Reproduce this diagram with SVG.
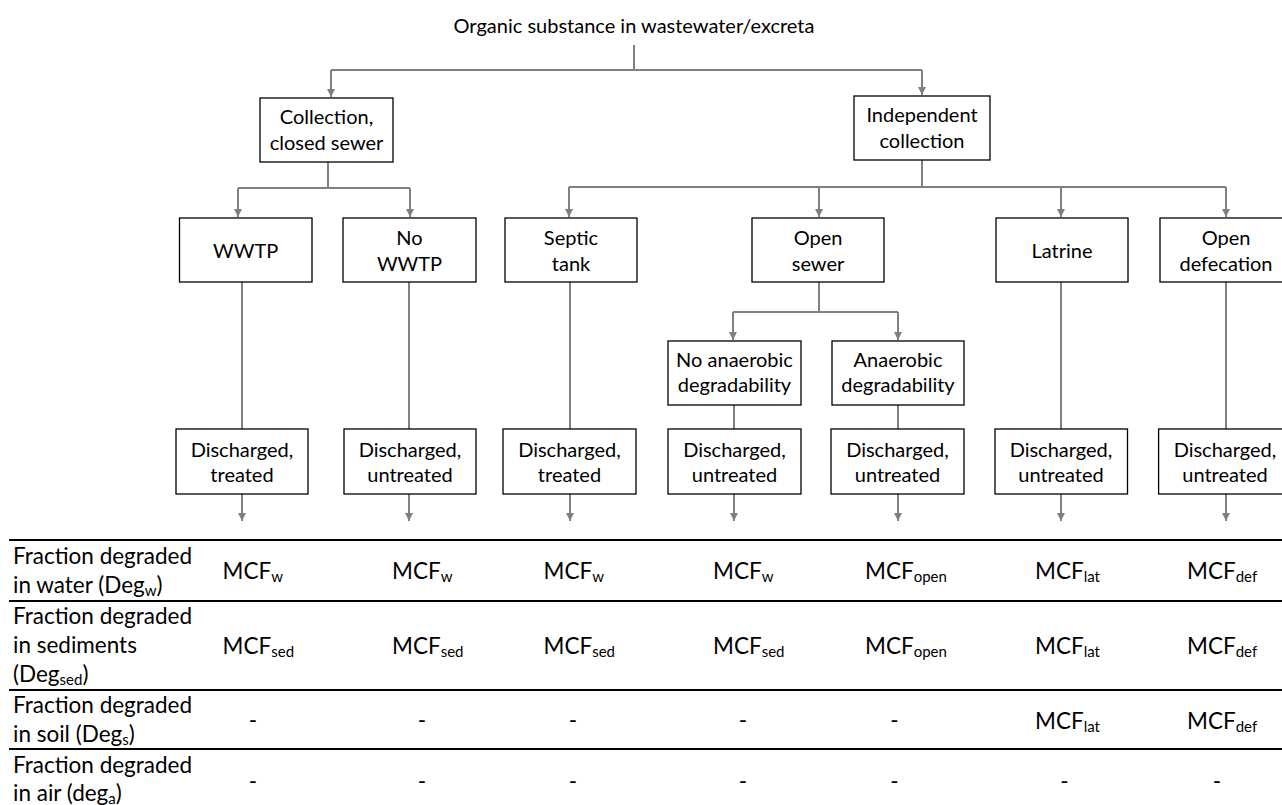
<svg xmlns="http://www.w3.org/2000/svg" width="1282" height="805" viewBox="0 0 1282 805">
<defs>
<style>
.box{fill:#fff;stroke:#000;stroke-width:1.3}
.t{font-family:Lato,"Liberation Sans",sans-serif;font-size:20px;fill:#000;text-anchor:middle}
.conn{stroke:#808080;stroke-width:2;fill:none}
.arr{stroke:#808080;stroke-width:2;fill:none;marker-end:url(#ah)}
.rule{stroke:#000;stroke-width:2}
.lb{font-family:Lato,"Liberation Sans",sans-serif;font-size:22.5px;fill:#000}
.v{font-family:Lato,"Liberation Sans",sans-serif;font-size:22.5px;fill:#000}
.d{font-family:Lato,"Liberation Sans",sans-serif;font-size:22.5px;fill:#000;text-anchor:middle}
.s{font-size:15px}
</style>
<marker id="ah" markerUnits="userSpaceOnUse" markerWidth="9" markerHeight="9" refX="8" refY="4" orient="auto">
<path d="M0,0 L8,4 L0,8 z" fill="#808080"/>
</marker>
</defs>
<rect width="1282" height="805" fill="#fff"/>

<g id="title"><text class="t" x="634" y="33">Organic substance in wastewater/excreta</text></g>

<g id="connectors">
<path class="conn" d="M634,45 V70"/>
<path class="conn" d="M331,70 H922"/>
<path class="arr" d="M331,70 V97"/>
<path class="arr" d="M922,70 V95"/>
<path class="conn" d="M328,162 V188 M238,188 H410"/>
<path class="arr" d="M238,188 V217"/>
<path class="arr" d="M410,188 V217"/>
<path class="conn" d="M922,160 V187 M569,187 H1226"/>
<path class="arr" d="M569,187 V217"/>
<path class="arr" d="M819,187 V217"/>
<path class="arr" d="M1061,187 V217"/>
<path class="arr" d="M1226,187 V217"/>
<path class="conn" d="M242,282 V429 M409,282 V429 M570,282 V429 M1061,282 V429 M1226,282 V429"/>
<path class="conn" d="M819,282 V312 M733,312 H898"/>
<path class="arr" d="M733,312 V340"/>
<path class="arr" d="M898,312 V340"/>
<path class="conn" d="M734,405 V429 M898,405 V429"/>
<path class="arr" d="M242,494 V521"/>
<path class="arr" d="M409,494 V521"/>
<path class="arr" d="M570,494 V521"/>
<path class="arr" d="M734,494 V521"/>
<path class="arr" d="M898,494 V521"/>
<path class="arr" d="M1061,494 V521"/>
<path class="arr" d="M1226,494 V521"/>
</g>

<g id="collection"><rect class="box" x="260" y="98" width="133" height="64"/><text class="t" x="326.5" y="124">Collection,</text><text class="t" x="326.5" y="150">closed sewer</text></g>
<g id="independent"><rect class="box" x="854" y="96" width="136" height="64"/><text class="t" x="922" y="122">Independent</text><text class="t" x="922" y="148">collection</text></g>

<g id="wwtp"><rect class="box" x="179.5" y="218" width="132.5" height="64"/><text class="t" x="245.7" y="258">WWTP</text></g>
<g id="nowwtp"><rect class="box" x="343" y="218" width="133" height="64"/><text class="t" x="409.5" y="245">No</text><text class="t" x="409.5" y="271">WWTP</text></g>
<g id="septic"><rect class="box" x="505" y="218" width="132" height="64"/><text class="t" x="571" y="245">Septic</text><text class="t" x="571" y="271">tank</text></g>
<g id="opensewer"><rect class="box" x="752" y="218" width="132" height="64"/><text class="t" x="818" y="245">Open</text><text class="t" x="818" y="271">sewer</text></g>
<g id="latrine"><rect class="box" x="996" y="218" width="132" height="64"/><text class="t" x="1062" y="258">Latrine</text></g>
<g id="opendef"><rect class="box" x="1160" y="218" width="132" height="64"/><text class="t" x="1226" y="245">Open</text><text class="t" x="1226" y="271">defecation</text></g>

<g id="noanaerobic"><rect class="box" x="668" y="341" width="133" height="64"/><text class="t" x="734.5" y="367">No anaerobic</text><text class="t" x="734.5" y="392">degradability</text></g>
<g id="anaerobic"><rect class="box" x="832" y="341" width="132" height="64"/><text class="t" x="898" y="367">Anaerobic</text><text class="t" x="898" y="392">degradability</text></g>

<g id="dis1"><rect class="box" x="176" y="429" width="132" height="65"/><text class="t" x="242" y="457">Discharged,</text><text class="t" x="242" y="482">treated</text></g>
<g id="dis2"><rect class="box" x="344" y="429" width="132" height="65"/><text class="t" x="410" y="457">Discharged,</text><text class="t" x="410" y="482">untreated</text></g>
<g id="dis3"><rect class="box" x="503" y="429" width="133" height="65"/><text class="t" x="569.5" y="457">Discharged,</text><text class="t" x="569.5" y="482">treated</text></g>
<g id="dis4"><rect class="box" x="668" y="429" width="133" height="65"/><text class="t" x="734.5" y="457">Discharged,</text><text class="t" x="734.5" y="482">untreated</text></g>
<g id="dis5"><rect class="box" x="831" y="429" width="133" height="65"/><text class="t" x="897.5" y="457">Discharged,</text><text class="t" x="897.5" y="482">untreated</text></g>
<g id="dis6"><rect class="box" x="995" y="429" width="132.5" height="65"/><text class="t" x="1061" y="457">Discharged,</text><text class="t" x="1061" y="482">untreated</text></g>
<g id="dis7"><rect class="box" x="1158.6" y="429" width="133" height="65"/><text class="t" x="1225" y="457">Discharged,</text><text class="t" x="1225" y="482">untreated</text></g>

<g id="table">
<path class="rule" d="M9,540 H1282 M9,601 H1282 M9,690 H1282 M9,749 H1282"/>
<text class="lb" x="13" y="564">Fraction degraded</text>
<text class="lb" x="13" y="593">in water (Deg<tspan class="s" dy="3">w</tspan><tspan dy="-3">)</tspan></text>
<text class="lb" x="13" y="624">Fraction degraded</text>
<text class="lb" x="13" y="653">in sediments</text>
<text class="lb" x="13" y="682">(Deg<tspan class="s" dy="3">sed</tspan><tspan dy="-3">)</tspan></text>
<text class="lb" x="13" y="713">Fraction degraded</text>
<text class="lb" x="13" y="742">in soil (Deg<tspan class="s" dy="3">s</tspan><tspan dy="-3">)</tspan></text>
<text class="lb" x="13" y="773">Fraction degraded</text>
<text class="lb" x="13" y="801">in air (deg<tspan class="s" dy="3">a</tspan><tspan dy="-3">)</tspan></text>

<text class="v" x="222.6" y="579">MCF<tspan class="s" dy="3">w</tspan></text>
<text class="v" x="392" y="579">MCF<tspan class="s" dy="3">w</tspan></text>
<text class="v" x="543.5" y="579">MCF<tspan class="s" dy="3">w</tspan></text>
<text class="v" x="713" y="579">MCF<tspan class="s" dy="3">w</tspan></text>
<text class="v" x="865" y="579">MCF<tspan class="s" dy="3">open</tspan></text>
<text class="v" x="1035" y="579">MCF<tspan class="s" dy="3">lat</tspan></text>
<text class="v" x="1187" y="579">MCF<tspan class="s" dy="3">def</tspan></text>

<text class="v" x="222.6" y="654">MCF<tspan class="s" dy="3">sed</tspan></text>
<text class="v" x="392" y="654">MCF<tspan class="s" dy="3">sed</tspan></text>
<text class="v" x="543.5" y="654">MCF<tspan class="s" dy="3">sed</tspan></text>
<text class="v" x="713" y="654">MCF<tspan class="s" dy="3">sed</tspan></text>
<text class="v" x="865" y="654">MCF<tspan class="s" dy="3">open</tspan></text>
<text class="v" x="1035" y="654">MCF<tspan class="s" dy="3">lat</tspan></text>
<text class="v" x="1187" y="654">MCF<tspan class="s" dy="3">def</tspan></text>

<text class="d" x="253" y="728">-</text>
<text class="d" x="422" y="728">-</text>
<text class="d" x="573" y="728">-</text>
<text class="d" x="743" y="728">-</text>
<text class="d" x="894.5" y="728">-</text>
<text class="v" x="1035" y="729">MCF<tspan class="s" dy="3">lat</tspan></text>
<text class="v" x="1187" y="729">MCF<tspan class="s" dy="3">def</tspan></text>

<text class="d" x="253" y="789">-</text>
<text class="d" x="422" y="789">-</text>
<text class="d" x="573" y="789">-</text>
<text class="d" x="743" y="789">-</text>
<text class="d" x="894.5" y="789">-</text>
<text class="d" x="1064.5" y="789">-</text>
<text class="d" x="1217" y="789">-</text>
</g>
</svg>
